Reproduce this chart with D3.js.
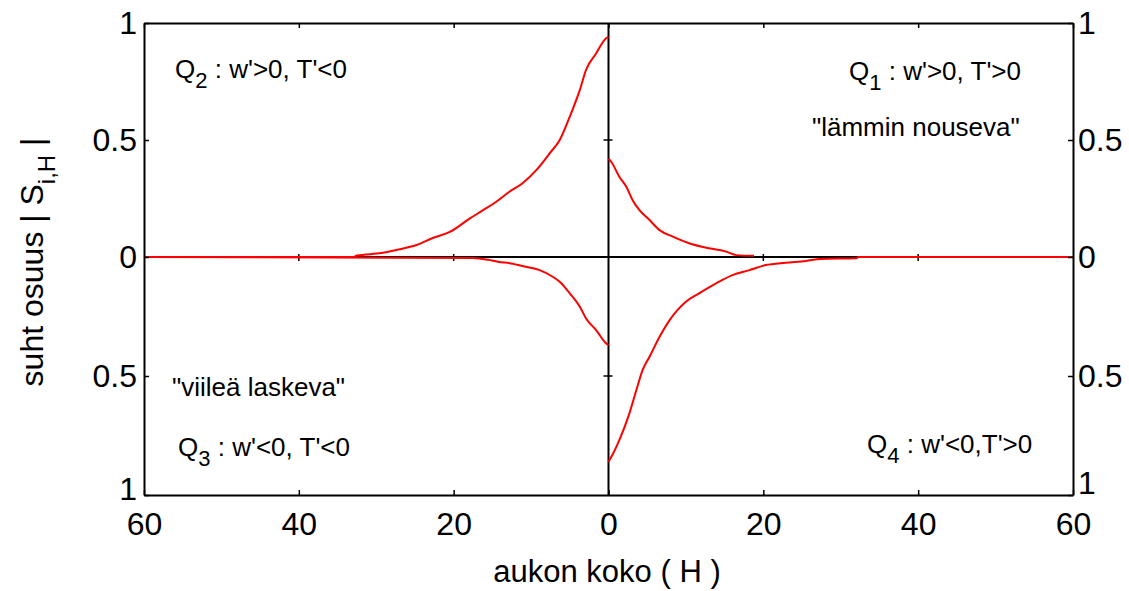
<!DOCTYPE html>
<html>
<head>
<meta charset="utf-8">
<script src="https://cdn.jsdelivr.net/npm/d3@7"></script>
<style>
  html, body { margin: 0; padding: 0; background: #fff; }
  svg { display: block; }
  text { font-family: "Liberation Sans", Arial, sans-serif; fill: #000; }
</style>
</head>
<body>
<svg id="chart" width="1129" height="591"></svg>
<script>
// ---- data (aukon koko H, relative share |S_i,H|) ----
// Left half (Q2, Q3) is plotted to the left of 0, right half (Q1, Q4) to the right.
const q2Size  = [60, 33, 32.5, 29.3, 27.4, 24.8, 22.7, 20.5, 17.9, 16.2, 14.5, 12.8, 11.1, 9.3, 7.6, 6.3, 5.0, 3.7, 2.9, 1.6, 0.3, 0];
const q2Value = [0, 0, 0.006, 0.017, 0.030, 0.051, 0.081, 0.107, 0.165, 0.200, 0.236, 0.279, 0.315, 0.372, 0.443, 0.500, 0.600, 0.714, 0.800, 0.870, 0.935, 0.940];

const q3Size  = [60, 17.5, 15.5, 14.3, 12.6, 10.8, 8.9, 7.2, 6.3, 5.0, 3.7, 2.9, 1.6, 0.3, 0];
const q3Value = [0, -0.004, -0.012, -0.020, -0.027, -0.040, -0.055, -0.083, -0.104, -0.153, -0.209, -0.258, -0.307, -0.363, -0.370];

const q1Size  = [0, 0.35, 1.4, 2.3, 3.1, 4.0, 5.3, 6.6, 8.3, 10.5, 13.0, 15.2, 16.5, 18.8];
const q1Value = [0.420, 0.407, 0.343, 0.300, 0.244, 0.200, 0.158, 0.115, 0.087, 0.058, 0.037, 0.023, 0.008, 0.005];

const q4Size  = [0, 0.13, 1.4, 2.7, 3.6, 4.4, 5.3, 6.6, 7.9, 10.0, 11.7, 13.9, 16.0, 18.2, 20.3, 22.9, 25.5, 27.4, 32.0, 32.3, 60];
const q4Value = [-0.860, -0.853, -0.769, -0.657, -0.559, -0.475, -0.419, -0.335, -0.265, -0.188, -0.153, -0.111, -0.076, -0.055, -0.034, -0.024, -0.017, -0.008, -0.005, 0, 0];

const xTicks = [-60, -40, -20, 0, 20, 40, 60];
const yTicks = [-1, -0.5, 0, 0.5, 1];
const innerXTicks = [-40, -20, 20, 40];
const innerYTicks = [-0.5, 0.5];

const xTitle = "aukon koko ( H )";

// ---- layout ----
const svg = d3.select("#chart");
const L = 144, R = 1073, T = 23, B = 495;
const x = d3.scaleLinear().domain([-60, 60]).range([L, R]);
const y = d3.scaleLinear().domain([-1, 0, 1]).range([B, 257, T]);
const FS = 32;

// zero lines (drawn first; red curves cover them where value is zero)
svg.append("line").attr("x1", x(-60)).attr("x2", x(60)).attr("y1", y(0)).attr("y2", y(0))
  .attr("stroke", "#000").attr("stroke-width", 2);
svg.append("line").attr("x1", x(0)).attr("x2", x(0)).attr("y1", y(1)).attr("y2", y(-1))
  .attr("stroke", "#000").attr("stroke-width", 2);
// small ticks on inner lines
svg.selectAll(".ixt").data(innerXTicks).enter().append("line")
  .attr("x1", d => x(d)).attr("x2", d => x(d)).attr("y1", y(0) - 3).attr("y2", y(0) + 4)
  .attr("stroke", "#000").attr("stroke-width", 1.5);
svg.selectAll(".iyt").data(innerYTicks).enter().append("line")
  .attr("x1", x(0) - 5).attr("x2", x(0) + 4).attr("y1", d => y(d)).attr("y2", d => y(d))
  .attr("stroke", "#000").attr("stroke-width", 1.5);

// curves
const line = d3.line().x(d => x(d[0])).y(d => y(d[1])).curve(d3.curveMonotoneX);
function series(sizes, values, sign) {
  const pts = sizes.map((s, i) => [sign * s, values[i]]);
  return pts.sort((a, b) => a[0] - b[0]);
}
[
  series(q3Size, q3Value, -1),
  series(q2Size, q2Value, -1),
  series(q1Size, q1Value, 1),
  series(q4Size, q4Value, 1)
].forEach(pts => {
  svg.append("path").attr("d", line(pts)).attr("fill", "none")
    .attr("stroke", "#ff0000").attr("stroke-width", 2).attr("stroke-linejoin", "round");
});

// axes
function styleAxis(g) {
  g.selectAll("path.domain").attr("stroke", "#000").attr("stroke-width", 2);
  g.selectAll(".tick line").attr("stroke", "#000").attr("stroke-width", 1.5);
  g.selectAll("text").style("font-size", FS + "px").style("font-family", '"Liberation Sans", Arial, sans-serif').attr("fill", "#000");
}
const fmt = d => String(Math.abs(d));
svg.append("g").attr("transform", `translate(0,${B})`)
  .call(d3.axisBottom(x).tickValues(xTicks).tickSizeInner(-5).tickSizeOuter(0).tickPadding(17).tickFormat(fmt))
  .call(styleAxis);
svg.append("g").attr("transform", `translate(0,${T})`)
  .call(d3.axisTop(x).tickValues(xTicks).tickSizeInner(-5).tickSizeOuter(0).tickFormat(""))
  .call(styleAxis);
const gl = svg.append("g").attr("transform", `translate(${L},0)`)
  .call(d3.axisLeft(y).tickValues(yTicks).tickSizeInner(-5).tickSizeOuter(0).tickPadding(7).tickFormat(fmt))
  .call(styleAxis);
const gr = svg.append("g").attr("transform", `translate(${R},0)`)
  .call(d3.axisRight(y).tickValues(yTicks).tickSizeInner(-5).tickSizeOuter(0).tickPadding(5).tickFormat(fmt))
  .call(styleAxis);
// lowest labels sit a little above the bottom edge, as in the reference
gl.selectAll(".tick").filter(d => d === -1).select("text").attr("y", -6);
gr.selectAll(".tick").filter(d => d === -1).select("text").attr("y", -12);

// x title
svg.append("text").attr("x", 607).attr("y", 582).attr("text-anchor", "middle")
  .style("font-size", "31px").text(xTitle);

// y title with subscript
const yt = svg.append("text").attr("transform", "translate(43,262) rotate(-90)")
  .attr("text-anchor", "middle").style("font-size", FS + "px");
yt.append("tspan").text("suht osuus | S");
yt.append("tspan").attr("dy", 12).style("font-size", "24px").text("i,H");
yt.append("tspan").attr("dy", -12).text(" |");

// quadrant annotations
const AF = 26;
function qLabel(xp, yp, sub, rest) {
  const t = svg.append("text").attr("x", xp).attr("y", yp).style("font-size", AF + "px");
  t.append("tspan").text("Q");
  t.append("tspan").attr("dy", 10).style("font-size", "22px").text(sub);
  t.append("tspan").attr("dy", -10).text(rest);
}
qLabel(175, 78, "2", " : w'>0, T'<0");
qLabel(849, 80, "1", " : w'>0, T'>0");
qLabel(178, 456, "3", " : w'<0, T'<0");
qLabel(867, 453, "4", " : w'<0,T'>0");
svg.append("text").attr("x", 812).attr("y", 136).style("font-size", AF + "px").text("\"lämmin nouseva\"");
svg.append("text").attr("x", 172).attr("y", 396).style("font-size", AF + "px").text("\"viileä laskeva\"");
</script>
</body>
</html>
